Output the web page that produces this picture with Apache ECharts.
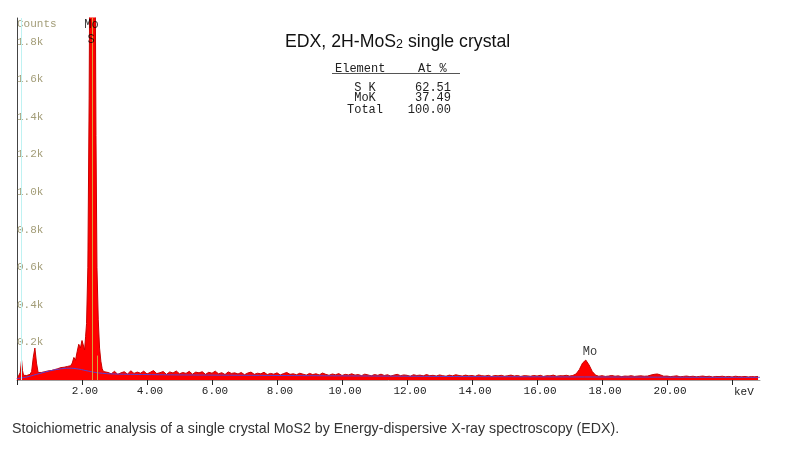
<!DOCTYPE html>
<html><head><meta charset="utf-8">
<script src="https://cdn.jsdelivr.net/npm/echarts@6/dist/echarts.min.js"></script>
<style>html,body{margin:0;padding:0;background:#fff}#c{width:799px;height:457px}</style>
</head><body><div id="c"></div>
<script>
// ---- data ----
const lowEnergy = [0.00,0.05,0.10,0.14,0.17,0.20,0.25,0.30,0.35,0.40,0.45,0.50,0.55,0.60,0.65,0.70,0.75,0.80,0.85,0.90,0.95,1.00,1.05,1.10,1.15,1.20,1.25,1.30,1.35,1.40,1.45,1.50,1.55,1.60,1.65,1.70,1.75,1.80,1.85,1.90,1.95,2.00,2.05,2.08,2.11,2.14,2.18,2.22,2.25,2.28,2.31,2.34,2.37,2.40,2.43,2.46,2.50,2.54,2.58,2.62,2.66,2.70];
const lowCounts = [5,10,40,106,50,25,20,24,26,30,45,120,170,90,40,36,40,38,44,42,48,52,50,58,55,63,60,70,66,75,68,78,72,82,76,90,120,105,150,190,170,210,200,160,230,300,600,1500,2600,3400,4000,3900,3200,2400,1300,600,320,170,100,60,45,38];
const highStartKeV = 2.8, highStepKeV = 0.1;
const highCounts = [
 40,33,46,30,38,44,31,49,35,42,
 36,47,32,41,50,34,39,45,30,43,
 37,48,33,40,35,46,31,42,38,44,
 30,41,36,47,33,39,29,43,35,38,
 32,40,28,37,42,30,36,33,41,29,
 35,31,38,27,34,40,30,33,28,36,
 31,26,35,29,33,27,37,30,25,32,
 28,34,24,30,27,33,26,29,23,31,
 27,22,29,25,31,24,28,21,26,30,
 23,27,25,20,28,24,26,22,29,23,
 25,21,27,23,20,26,22,28,24,21,
 26,22,24,20,27,23,21,25,19,24,
 22,25,20,23,26,21,24,19,23,22,
 20,24,21,25,19,23,22,26,20,23,
 22,25,21,24,32,55,90,106,80,45,
 26,20,23,19,21,24,20,22,18,21,
 20,23,19,21,22,20,21,26,30,32,
 27,20,21,18,20,22,17,19,21,18,
 20,17,19,21,18,20,16,19,18,20,
 17,19,16,20,18,17,19,16,18,17,19];
const bgEnergy = [0,0.3,0.6,1.0,1.3,1.6,1.9,2.2,2.5,3,4,5,6,8,10,12,14,16,18,20,22,22.86];
const bgCounts = [8,16,30,48,58,63,58,47,38,32,29,27,26,24,22,20,18,17,16,15,14,14];
const markerEnergy = [0.12, 2.30, 2.47];
const markerTop = [1926, 1926, 130];
const peakLabelText = ['Mo','S','Mo'];
const peakLabelEnergy = [2.29, 2.28, 17.63];
const peakLabelCounts = [1888, 1809, 149];
const tableElements = ['S K','MoK','Total'];
const tableAtPct = ['62.51','37.49','100.00'];
const xTickLabels = ['2.00','4.00','6.00','8.00','10.00','12.00','14.00','16.00','18.00','20.00'];
const yTickLabels = ['0.2k','0.4k','0.6k','0.8k','1.0k','1.2k','1.4k','1.6k','1.8k'];

// ---- build ----
const spectrum = [];
lowEnergy.forEach((e,i)=>spectrum.push([e, lowCounts[i]]));
highCounts.forEach((c,i)=>spectrum.push([+(highStartKeV + i*highStepKeV).toFixed(2), c]));
const background = bgEnergy.map((e,i)=>[e,bgCounts[i]]);
const markerColors = ['#bff2f2','#d7a43a','#d7a43a'];
const markLines = markerEnergy.map((e,i)=>[
  {coord:[e,0], lineStyle:{color:markerColors[i], width:1, type:'solid'}},
  {coord:[e,markerTop[i]]}
]);
const labelPts = peakLabelText.map((t,i)=>({value:[peakLabelEnergy[i],peakLabelCounts[i]], name:t}));

const mono = 'Liberation Mono';
const chart = echarts.init(document.getElementById('c'), null, {renderer:'canvas'});
const tableGraphics = [
  {type:'text', left:335, top:63, style:{text:'Element', font:'12px "Liberation Mono"', fill:'#222'}},
  {type:'text', left:418, top:63, style:{text:'At %', font:'12px "Liberation Mono"', fill:'#222'}},
  {type:'line', shape:{x1:332,y1:73.5,x2:460,y2:73.5}, style:{stroke:'#555', lineWidth:1}}
];
const rowY = [82, 92, 104];
tableElements.forEach((t,i)=>{
  tableGraphics.push({type:'text', x:365, y:rowY[i], style:{text:t, font:'12px "Liberation Mono"', fill:'#222', textAlign:'center'}});
  tableGraphics.push({type:'text', x:451, y:rowY[i], style:{text:tableAtPct[i], font:'12px "Liberation Mono"', fill:'#222', textAlign:'right'}});
});

chart.setOption({
  animation:false,
  backgroundColor:'#fff',
  title:{
    text:'{a|EDX, 2H-MoS}{s|2}{a| single crystal}',
    left:285, top:33, padding:0,
    textStyle:{fontWeight:'normal', rich:{
      a:{fontFamily:'Liberation Sans', fontSize:17.7, fontWeight:'normal', color:'#111'},
      s:{fontFamily:'Liberation Sans', fontSize:12.5, fontWeight:'normal', color:'#111', padding:[5,0,0,0]}
    }}
  },
  grid:{left:17, right:39, top:18, bottom:77, containLabel:false},
  xAxis:{
    type:'value', min:0, max:22.86, interval:2,
    name:'keV', nameLocation:'end', nameGap:-26,
    nameTextStyle:{fontFamily:mono, fontSize:11, color:'#222', verticalAlign:'top', padding:[7,0,0,0]},
    axisLine:{show:true, onZero:false, lineStyle:{color:'#a0a0a0', width:1}},
    axisTick:{show:true, length:5, lineStyle:{color:'#222'}},
    axisLabel:{fontFamily:mono, fontSize:11, color:'#222', margin:6, showMaxLabel:false, padding:[0,0,0,6],
      formatter:v=>{const k=Math.round(v/2)-1; return (Math.abs(v-Math.round(v))<1e-6 && k>=0 && k<xTickLabels.length)?xTickLabels[k]:'';}},
    splitLine:{show:false}
  },
  yAxis:{
    type:'value', min:0, max:1926, interval:200,
    name:'Counts', nameLocation:'end', nameGap:-12,
    nameTextStyle:{fontFamily:mono, fontSize:11, color:'#a39d78', align:'left', padding:[0,0,0,0]},
    axisLine:{show:true, lineStyle:{color:'#444', width:1}},
    axisTick:{show:false},
    axisLabel:{inside:true, margin:0, fontFamily:mono, fontSize:11, color:'#a39d78', align:'left', padding:[11,0,0,0], showMaxLabel:false,
      formatter:v=>{const k=Math.round(v/200)-1; return (k>=0 && k<yTickLabels.length && v<1900)?yTickLabels[k]:'';}},
    splitLine:{show:false}
  },
  graphic:tableGraphics,
  series:[
    {type:'line', data:spectrum, symbol:'none', clip:true, z:2,
     lineStyle:{color:'#c80000', width:1}, areaStyle:{color:'#ff0000', opacity:1}},
    {type:'line', data:background, symbol:'none', smooth:0.4, z:3,
     lineStyle:{color:'#5b3fcf', width:1},
     markLine:{symbol:['none','none'], silent:true, label:{show:false}, data:markLines}},
    {type:'scatter', data:labelPts, symbolSize:0, z:5,
     label:{show:true, position:'inside', formatter:p=>p.name, fontFamily:mono, fontSize:12, color:'#000'}}
  ]
});
</script>
<div style="position:absolute;left:12px;top:420px;font:14.2px 'Liberation Sans';color:#333;white-space:nowrap">Stoichiometric analysis of a single crystal MoS2 by Energy-dispersive X-ray spectroscopy (EDX).</div>
</body></html>
